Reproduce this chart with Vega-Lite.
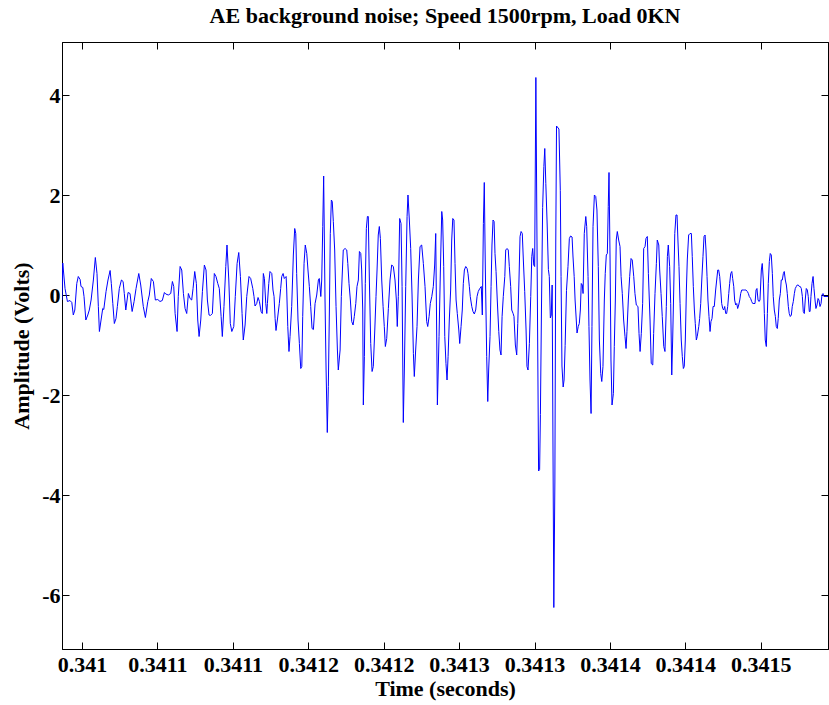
{
"$schema": "https://vega.github.io/schema/vega-lite/v6.json",
"width": 766, "height": 607,
"autosize": {"type": "none"},
"padding": {"left": 62, "top": 42, "right": 1, "bottom": 56},
"background": "white",
"title": {"text": "AE background noise; Speed 1500rpm, Load 0KN", "font": "Liberation Serif", "fontSize": 22, "fontWeight": "bold", "color": "black", "anchor": "middle", "offset": 14},
"config": {
 "view": {"stroke": "black", "strokeWidth": 1},
 "axis": {"domainColor": "black", "tickColor": "black", "labelColor": "black", "titleColor": "black", "labelFont": "Liberation Serif", "titleFont": "Liberation Serif", "labelFontSize": 22, "titleFontSize": 22, "labelFontWeight": "bold", "titleFontWeight": "bold", "grid": false, "tickSize": -7, "tickWidth": 1, "domainWidth": 1, "labelOverlap": false, "labelFlush": false}
},
"data": {"values": [
{"t":0.3409867,"v":-0.10},{"t":0.3409872,"v":0.64},{"t":0.3409887,"v":0.13},{"t":0.3409903,"v":-0.13},{"t":0.3409920,"v":-0.11},{"t":0.3409932,"v":-0.15},{"t":0.3409942,"v":-0.40},{"t":0.3409952,"v":-0.30},{"t":0.3409965,"v":0.23},{"t":0.3409975,"v":0.37},
{"t":0.3409987,"v":0.31},{"t":0.3409993,"v":0.17},{"t":0.3410005,"v":0.15},{"t":0.3410013,"v":-0.03},{"t":0.3410025,"v":-0.50},{"t":0.3410038,"v":-0.40},{"t":0.3410048,"v":-0.30},{"t":0.3410060,"v":-0.10},{"t":0.3410075,"v":0.30},{"t":0.3410088,"v":0.75},
{"t":0.3410099,"v":0.43},{"t":0.3410108,"v":-0.23},{"t":0.3410115,"v":-0.73},{"t":0.3410126,"v":-0.50},{"t":0.3410137,"v":-0.27},{"t":0.3410144,"v":-0.29},{"t":0.3410159,"v":0.07},{"t":0.3410172,"v":0.30},{"t":0.3410186,"v":0.49},{"t":0.3410194,"v":0.23},
{"t":0.3410204,"v":-0.17},{"t":0.3410214,"v":-0.57},{"t":0.3410225,"v":-0.47},{"t":0.3410234,"v":-0.23},{"t":0.3410247,"v":0.13},{"t":0.3410261,"v":0.30},{"t":0.3410272,"v":0.27},{"t":0.3410280,"v":0.03},{"t":0.3410290,"v":-0.30},{"t":0.3410305,"v":0.05},
{"t":0.3410318,"v":0.03},{"t":0.3410332,"v":-0.33},{"t":0.3410345,"v":-0.13},{"t":0.3410358,"v":0.13},{"t":0.3410376,"v":0.43},{"t":0.3410389,"v":0.20},{"t":0.3410406,"v":-0.23},{"t":0.3410420,"v":-0.45},{"t":0.3410436,"v":-0.13},{"t":0.3410446,"v":0.00},
{"t":0.3410459,"v":0.33},{"t":0.3410473,"v":0.27},{"t":0.3410486,"v":-0.10},{"t":0.3410502,"v":-0.09},{"t":0.3410517,"v":-0.13},{"t":0.3410532,"v":-0.11},{"t":0.3410546,"v":0.05},{"t":0.3410555,"v":0.02},{"t":0.3410572,"v":0.00},{"t":0.3410588,"v":0.03},
{"t":0.3410599,"v":0.27},{"t":0.3410608,"v":0.17},{"t":0.3410617,"v":-0.37},{"t":0.3410630,"v":-0.73},{"t":0.3410638,"v":-0.03},{"t":0.3410650,"v":0.57},{"t":0.3410661,"v":0.50},{"t":0.3410672,"v":0.03},{"t":0.3410683,"v":-0.27},{"t":0.3410694,"v":-0.37},
{"t":0.3410705,"v":0.03},{"t":0.3410716,"v":-0.07},{"t":0.3410727,"v":-0.10},{"t":0.3410736,"v":0.13},{"t":0.3410747,"v":0.47},{"t":0.3410758,"v":0.23},{"t":0.3410767,"v":-0.50},{"t":0.3410776,"v":-0.83},{"t":0.3410787,"v":-0.50},{"t":0.3410798,"v":0.07},
{"t":0.3410811,"v":0.60},{"t":0.3410822,"v":0.50},{"t":0.3410831,"v":-0.10},{"t":0.3410842,"v":-0.40},{"t":0.3410851,"v":-0.41},{"t":0.3410864,"v":-0.37},{"t":0.3410877,"v":0.43},{"t":0.3410888,"v":0.37},{"t":0.3410900,"v":0.23},{"t":0.3410910,"v":0.13},
{"t":0.3410922,"v":-0.43},{"t":0.3410930,"v":-0.83},{"t":0.3410941,"v":-0.23},{"t":0.3410953,"v":0.57},{"t":0.3410961,"v":1.00},{"t":0.3410973,"v":0.30},{"t":0.3410983,"v":-0.57},{"t":0.3410993,"v":-0.73},{"t":0.3411006,"v":-0.63},{"t":0.3411016,"v":-0.03},
{"t":0.3411028,"v":0.63},{"t":0.3411039,"v":0.85},{"t":0.3411050,"v":0.37},{"t":0.3411061,"v":-0.37},{"t":0.3411069,"v":-0.90},{"t":0.3411081,"v":-0.60},{"t":0.3411092,"v":-0.03},{"t":0.3411107,"v":0.37},{"t":0.3411118,"v":0.33},{"t":0.3411132,"v":0.13},
{"t":0.3411140,"v":-0.03},{"t":0.3411147,"v":-0.22},{"t":0.3411158,"v":-0.17},{"t":0.3411167,"v":-0.05},{"t":0.3411176,"v":-0.13},{"t":0.3411187,"v":-0.33},{"t":0.3411195,"v":-0.37},{"t":0.3411202,"v":0.43},{"t":0.3411209,"v":0.33},{"t":0.3411218,"v":-0.17},
{"t":0.3411225,"v":-0.37},{"t":0.3411229,"v":-0.17},{"t":0.3411238,"v":0.23},{"t":0.3411246,"v":0.47},{"t":0.3411258,"v":0.43},{"t":0.3411266,"v":0.10},{"t":0.3411273,"v":-0.03},{"t":0.3411280,"v":-0.47},{"t":0.3411286,"v":-0.71},{"t":0.3411295,"v":-0.50},
{"t":0.3411308,"v":-0.17},{"t":0.3411317,"v":0.13},{"t":0.3411324,"v":0.37},{"t":0.3411333,"v":0.43},{"t":0.3411341,"v":0.33},{"t":0.3411353,"v":0.37},{"t":0.3411357,"v":0.10},{"t":0.3411364,"v":-0.63},{"t":0.3411372,"v":-1.13},{"t":0.3411379,"v":-0.83},
{"t":0.3411390,"v":-0.23},{"t":0.3411401,"v":0.80},{"t":0.3411410,"v":1.33},{"t":0.3411417,"v":1.23},{"t":0.3411423,"v":0.43},{"t":0.3411432,"v":-0.50},{"t":0.3411441,"v":-0.97},{"t":0.3411450,"v":-1.47},{"t":0.3411457,"v":-1.43},{"t":0.3411463,"v":-0.43},
{"t":0.3411472,"v":0.63},{"t":0.3411480,"v":1.00},{"t":0.3411490,"v":0.83},{"t":0.3411498,"v":0.50},{"t":0.3411507,"v":0.17},{"t":0.3411516,"v":-0.23},{"t":0.3411525,"v":-0.67},{"t":0.3411534,"v":-0.69},{"t":0.3411545,"v":-0.17},{"t":0.3411556,"v":0.00},
{"t":0.3411567,"v":0.30},{"t":0.3411573,"v":0.33},{"t":0.3411583,"v":-0.03},{"t":0.3411589,"v":0.30},{"t":0.3411596,"v":1.37},{"t":0.3411602,"v":2.38},{"t":0.3411611,"v":-0.10},{"t":0.3411618,"v":-1.50},{"t":0.3411626,"v":-2.75},{"t":0.3411633,"v":-1.83},
{"t":0.3411640,"v":-0.30},{"t":0.3411646,"v":1.23},{"t":0.3411653,"v":1.90},{"t":0.3411659,"v":1.87},{"t":0.3411666,"v":1.47},{"t":0.3411675,"v":0.90},{"t":0.3411684,"v":-0.23},{"t":0.3411693,"v":-1.10},{"t":0.3411699,"v":-1.50},{"t":0.3411711,"v":-1.10},
{"t":0.3411719,"v":-0.03},{"t":0.3411732,"v":0.90},{"t":0.3411744,"v":0.93},{"t":0.3411755,"v":0.90},{"t":0.3411762,"v":0.63},{"t":0.3411770,"v":0.23},{"t":0.3411779,"v":-0.10},{"t":0.3411788,"v":-0.53},{"t":0.3411797,"v":-0.60},{"t":0.3411805,"v":-0.43},
{"t":0.3411815,"v":-0.17},{"t":0.3411823,"v":0.17},{"t":0.3411832,"v":0.30},{"t":0.3411839,"v":0.87},{"t":0.3411848,"v":0.83},{"t":0.3411854,"v":0.50},{"t":0.3411861,"v":-0.30},{"t":0.3411865,"v":-2.20},{"t":0.3411872,"v":-1.23},{"t":0.3411878,"v":0.23},
{"t":0.3411885,"v":1.33},{"t":0.3411892,"v":1.57},{"t":0.3411898,"v":1.57},{"t":0.3411905,"v":0.30},{"t":0.3411914,"v":-0.97},{"t":0.3411923,"v":-1.53},{"t":0.3411931,"v":-1.43},{"t":0.3411941,"v":-0.70},{"t":0.3411949,"v":-0.03},{"t":0.3411956,"v":0.50},
{"t":0.3411964,"v":1.20},{"t":0.3411971,"v":1.37},{"t":0.3411978,"v":1.13},{"t":0.3411987,"v":0.30},{"t":0.3411996,"v":-0.23},{"t":0.3412004,"v":-0.63},{"t":0.3412011,"v":-1.03},{"t":0.3412020,"v":-0.87},{"t":0.3412031,"v":-0.27},{"t":0.3412042,"v":0.30},
{"t":0.3412053,"v":0.60},{"t":0.3412064,"v":0.57},{"t":0.3412075,"v":0.30},{"t":0.3412084,"v":-0.10},{"t":0.3412090,"v":-0.63},{"t":0.3412097,"v":-0.03},{"t":0.3412106,"v":1.53},{"t":0.3412115,"v":1.43},{"t":0.3412122,"v":0.17},{"t":0.3412130,"v":-2.55},
{"t":0.3412137,"v":-1.50},{"t":0.3412146,"v":0.17},{"t":0.3412155,"v":1.57},{"t":0.3412161,"v":2.00},{"t":0.3412170,"v":1.50},{"t":0.3412179,"v":0.93},{"t":0.3412188,"v":0.00},{"t":0.3412197,"v":-1.17},{"t":0.3412203,"v":-1.63},{"t":0.3412212,"v":-1.10},
{"t":0.3412221,"v":-0.63},{"t":0.3412230,"v":0.30},{"t":0.3412241,"v":0.97},{"t":0.3412252,"v":1.00},{"t":0.3412263,"v":0.63},{"t":0.3412274,"v":0.17},{"t":0.3412285,"v":-0.53},{"t":0.3412292,"v":-0.63},{"t":0.3412301,"v":-0.43},{"t":0.3412309,"v":-0.17},
{"t":0.3412319,"v":-0.03},{"t":0.3412329,"v":0.17},{"t":0.3412338,"v":0.60},{"t":0.3412345,"v":1.23},{"t":0.3412356,"v":-2.20},{"t":0.3412367,"v":-0.83},{"t":0.3412376,"v":0.50},{"t":0.3412385,"v":1.67},{"t":0.3412391,"v":1.50},{"t":0.3412398,"v":0.57},
{"t":0.3412405,"v":-0.83},{"t":0.3412413,"v":-1.37},{"t":0.3412420,"v":-1.70},{"t":0.3412427,"v":-1.23},{"t":0.3412435,"v":-0.50},{"t":0.3412444,"v":0.10},{"t":0.3412451,"v":1.10},{"t":0.3412458,"v":1.53},{"t":0.3412466,"v":1.50},{"t":0.3412473,"v":0.63},
{"t":0.3412480,"v":-0.10},{"t":0.3412488,"v":-0.37},{"t":0.3412498,"v":-0.70},{"t":0.3412504,"v":-0.97},{"t":0.3412513,"v":-0.63},{"t":0.3412521,"v":-0.30},{"t":0.3412528,"v":0.23},{"t":0.3412535,"v":0.50},{"t":0.3412544,"v":0.57},{"t":0.3412553,"v":0.53},
{"t":0.3412559,"v":0.43},{"t":0.3412568,"v":0.17},{"t":0.3412574,"v":-0.03},{"t":0.3412584,"v":-0.23},{"t":0.3412592,"v":-0.33},{"t":0.3412601,"v":-0.38},{"t":0.3412610,"v":-0.30},{"t":0.3412619,"v":-0.03},{"t":0.3412627,"v":0.07},{"t":0.3412637,"v":0.13},
{"t":0.3412647,"v":0.17},{"t":0.3412654,"v":-0.40},{"t":0.3412661,"v":1.43},{"t":0.3412667,"v":2.25},{"t":0.3412674,"v":0.50},{"t":0.3412683,"v":-1.23},{"t":0.3412690,"v":-2.13},{"t":0.3412696,"v":-1.50},{"t":0.3412705,"v":-0.83},{"t":0.3412712,"v":0.17},
{"t":0.3412718,"v":1.00},{"t":0.3412725,"v":1.50},{"t":0.3412732,"v":1.47},{"t":0.3412738,"v":0.83},{"t":0.3412745,"v":0.47},{"t":0.3412753,"v":-0.10},{"t":0.3412763,"v":-0.73},{"t":0.3412771,"v":-1.10},{"t":0.3412778,"v":-1.20},{"t":0.3412785,"v":-0.43},
{"t":0.3412793,"v":-0.03},{"t":0.3412803,"v":0.37},{"t":0.3412809,"v":0.90},{"t":0.3412818,"v":0.93},{"t":0.3412826,"v":0.90},{"t":0.3412833,"v":0.57},{"t":0.3412842,"v":0.17},{"t":0.3412849,"v":-0.30},{"t":0.3412858,"v":-0.37},{"t":0.3412864,"v":-0.43},
{"t":0.3412873,"v":-1.00},{"t":0.3412882,"v":-1.20},{"t":0.3412889,"v":-0.57},{"t":0.3412897,"v":0.30},{"t":0.3412904,"v":1.17},{"t":0.3412911,"v":1.27},{"t":0.3412919,"v":1.23},{"t":0.3412926,"v":0.70},{"t":0.3412935,"v":0.07},{"t":0.3412944,"v":-0.70},
{"t":0.3412950,"v":-1.43},{"t":0.3412957,"v":-1.50},{"t":0.3412966,"v":-0.97},{"t":0.3412975,"v":-0.03},{"t":0.3412982,"v":0.77},{"t":0.3412988,"v":0.93},{"t":0.3412995,"v":0.60},{"t":0.3413001,"v":0.57},{"t":0.3413009,"v":4.35},{"t":0.3413027,"v":-3.52},
{"t":0.3413034,"v":-3.49},{"t":0.3413039,"v":-2.39},{"t":0.3413046,"v":-0.32},{"t":0.3413054,"v":1.75},{"t":0.3413062,"v":2.57},{"t":0.3413068,"v":2.93},{"t":0.3413075,"v":2.23},{"t":0.3413084,"v":1.40},{"t":0.3413092,"v":0.51},{"t":0.3413098,"v":0.37},
{"t":0.3413105,"v":-0.46},{"t":0.3413111,"v":-0.40},{"t":0.3413117,"v":0.20},{"t":0.3413128,"v":-6.25},{"t":0.3413135,"v":-3.76},{"t":0.3413141,"v":1.06},{"t":0.3413146,"v":3.38},{"t":0.3413162,"v":3.32},{"t":0.3413171,"v":2.09},{"t":0.3413176,"v":0.37},
{"t":0.3413182,"v":-1.42},{"t":0.3413190,"v":-1.84},{"t":0.3413196,"v":-1.70},{"t":0.3413203,"v":-1.01},{"t":0.3413212,"v":0.09},{"t":0.3413222,"v":0.57},{"t":0.3413231,"v":1.13},{"t":0.3413239,"v":1.18},{"t":0.3413249,"v":1.16},{"t":0.3413255,"v":0.78},
{"t":0.3413263,"v":0.37},{"t":0.3413269,"v":-0.10},{"t":0.3413282,"v":-0.76},{"t":0.3413290,"v":-0.63},{"t":0.3413297,"v":-0.57},{"t":0.3413304,"v":-0.30},{"t":0.3413310,"v":0.23},{"t":0.3413317,"v":0.20},{"t":0.3413322,"v":0.03},{"t":0.3413330,"v":1.23},
{"t":0.3413340,"v":1.57},{"t":0.3413346,"v":1.37},{"t":0.3413355,"v":0.37},{"t":0.3413361,"v":-0.63},{"t":0.3413368,"v":-1.70},{"t":0.3413375,"v":-2.37},{"t":0.3413381,"v":-0.63},{"t":0.3413388,"v":1.37},{"t":0.3413397,"v":2.00},{"t":0.3413406,"v":1.97},
{"t":0.3413414,"v":1.70},{"t":0.3413423,"v":0.57},{"t":0.3413430,"v":-0.90},{"t":0.3413439,"v":-1.57},{"t":0.3413446,"v":-1.73},{"t":0.3413454,"v":-1.43},{"t":0.3413463,"v":-0.10},{"t":0.3413469,"v":0.43},{"t":0.3413476,"v":0.80},{"t":0.3413483,"v":0.83},
{"t":0.3413489,"v":1.77},{"t":0.3413494,"v":2.45},{"t":0.3413501,"v":0.70},{"t":0.3413507,"v":-1.30},{"t":0.3413514,"v":-2.20},{"t":0.3413523,"v":-1.97},{"t":0.3413529,"v":-1.03},{"t":0.3413536,"v":-0.10},{"t":0.3413542,"v":1.10},{"t":0.3413549,"v":1.27},
{"t":0.3413558,"v":1.10},{"t":0.3413567,"v":0.97},{"t":0.3413574,"v":0.37},{"t":0.3413582,"v":0.03},{"t":0.3413591,"v":-0.50},{"t":0.3413600,"v":-0.83},{"t":0.3413607,"v":-1.07},{"t":0.3413613,"v":-0.73},{"t":0.3413622,"v":-0.10},{"t":0.3413631,"v":0.37},
{"t":0.3413640,"v":0.73},{"t":0.3413648,"v":0.70},{"t":0.3413658,"v":0.37},{"t":0.3413666,"v":0.03},{"t":0.3413675,"v":-0.20},{"t":0.3413686,"v":-0.23},{"t":0.3413693,"v":-0.77},{"t":0.3413700,"v":-1.13},{"t":0.3413708,"v":-0.77},{"t":0.3413717,"v":-0.17},
{"t":0.3413724,"v":0.93},{"t":0.3413733,"v":0.97},{"t":0.3413739,"v":1.13},{"t":0.3413748,"v":1.17},{"t":0.3413755,"v":0.43},{"t":0.3413766,"v":-0.50},{"t":0.3413774,"v":-1.37},{"t":0.3413784,"v":-1.40},{"t":0.3413790,"v":-0.77},{"t":0.3413799,"v":0.03},
{"t":0.3413808,"v":0.63},{"t":0.3413814,"v":1.10},{"t":0.3413824,"v":1.00},{"t":0.3413830,"v":0.50},{"t":0.3413839,"v":0.03},{"t":0.3413847,"v":-0.43},{"t":0.3413857,"v":-1.03},{"t":0.3413865,"v":-1.13},{"t":0.3413874,"v":-0.23},{"t":0.3413881,"v":0.77},
{"t":0.3413887,"v":1.00},{"t":0.3413896,"v":0.57},{"t":0.3413903,"v":-0.17},{"t":0.3413910,"v":-1.60},{"t":0.3413916,"v":-0.90},{"t":0.3413923,"v":0.10},{"t":0.3413930,"v":1.23},{"t":0.3413938,"v":1.60},{"t":0.3413945,"v":1.60},{"t":0.3413951,"v":1.10},
{"t":0.3413958,"v":0.57},{"t":0.3413965,"v":-0.17},{"t":0.3413973,"v":-0.90},{"t":0.3413980,"v":-1.23},{"t":0.3413987,"v":-1.47},{"t":0.3413993,"v":-1.43},{"t":0.3414000,"v":-0.90},{"t":0.3414007,"v":0.10},{"t":0.3414013,"v":0.70},{"t":0.3414022,"v":1.20},
{"t":0.3414031,"v":1.23},{"t":0.3414040,"v":1.23},{"t":0.3414046,"v":0.77},{"t":0.3414053,"v":0.17},{"t":0.3414060,"v":-0.30},{"t":0.3414066,"v":-0.57},{"t":0.3414073,"v":-0.90},{"t":0.3414079,"v":-0.83},{"t":0.3414089,"v":-0.63},{"t":0.3414095,"v":-0.47},
{"t":0.3414102,"v":-0.17},{"t":0.3414109,"v":0.30},{"t":0.3414117,"v":0.77},{"t":0.3414124,"v":1.17},{"t":0.3414131,"v":1.20},{"t":0.3414137,"v":0.90},{"t":0.3414144,"v":0.37},{"t":0.3414150,"v":-0.10},{"t":0.3414157,"v":-0.43},{"t":0.3414164,"v":-0.73},
{"t":0.3414170,"v":-0.53},{"t":0.3414177,"v":-0.47},{"t":0.3414184,"v":-0.23},{"t":0.3414192,"v":-0.23},{"t":0.3414201,"v":0.10},{"t":0.3414208,"v":0.30},{"t":0.3414215,"v":0.50},{"t":0.3414221,"v":0.50},{"t":0.3414228,"v":0.37},{"t":0.3414235,"v":0.10},
{"t":0.3414241,"v":-0.17},{"t":0.3414248,"v":-0.27},{"t":0.3414254,"v":-0.30},{"t":0.3414261,"v":-0.23},{"t":0.3414268,"v":-0.37},{"t":0.3414274,"v":-0.37},{"t":0.3414281,"v":-0.23},{"t":0.3414288,"v":0.03},{"t":0.3414294,"v":0.23},{"t":0.3414301,"v":0.43},
{"t":0.3414308,"v":0.47},{"t":0.3414314,"v":0.33},{"t":0.3414321,"v":0.17},{"t":0.3414327,"v":-0.10},{"t":0.3414334,"v":-0.20},{"t":0.3414341,"v":-0.17},{"t":0.3414347,"v":-0.27},{"t":0.3414354,"v":-0.20},{"t":0.3414361,"v":-0.10},{"t":0.3414367,"v":0.03},
{"t":0.3414374,"v":0.10},{"t":0.3414384,"v":0.10},{"t":0.3414394,"v":0.10},{"t":0.3414402,"v":0.10},{"t":0.3414411,"v":0.07},{"t":0.3414418,"v":0.03},{"t":0.3414424,"v":-0.03},{"t":0.3414433,"v":-0.07},{"t":0.3414440,"v":-0.13},{"t":0.3414447,"v":-0.17},
{"t":0.3414455,"v":-0.17},{"t":0.3414462,"v":-0.17},{"t":0.3414469,"v":0.10},{"t":0.3414475,"v":0.13},{"t":0.3414482,"v":-0.10},{"t":0.3414489,"v":-0.13},{"t":0.3414495,"v":-0.10},{"t":0.3414504,"v":0.50},{"t":0.3414510,"v":0.63},{"t":0.3414517,"v":0.30},
{"t":0.3414524,"v":-0.37},{"t":0.3414530,"v":-0.90},{"t":0.3414537,"v":-1.03},{"t":0.3414544,"v":-0.37},{"t":0.3414550,"v":0.23},{"t":0.3414557,"v":0.67},{"t":0.3414563,"v":0.83},{"t":0.3414570,"v":0.80},{"t":0.3414577,"v":0.43},{"t":0.3414583,"v":-0.03},
{"t":0.3414590,"v":-0.30},{"t":0.3414597,"v":-0.43},{"t":0.3414603,"v":-0.63},{"t":0.3414610,"v":-0.67},{"t":0.3414616,"v":-0.47},{"t":0.3414623,"v":-0.10},{"t":0.3414630,"v":0.03},{"t":0.3414636,"v":0.30},{"t":0.3414643,"v":0.30},{"t":0.3414650,"v":0.43},
{"t":0.3414656,"v":0.47},{"t":0.3414663,"v":0.30},{"t":0.3414670,"v":0.20},{"t":0.3414676,"v":0.03},{"t":0.3414683,"v":-0.23},{"t":0.3414689,"v":-0.37},{"t":0.3414696,"v":-0.43},{"t":0.3414703,"v":-0.40},{"t":0.3414709,"v":-0.23},{"t":0.3414716,"v":-0.13},
{"t":0.3414723,"v":0.03},{"t":0.3414729,"v":0.13},{"t":0.3414736,"v":0.17},{"t":0.3414742,"v":0.20},{"t":0.3414749,"v":0.20},{"t":0.3414756,"v":0.17},{"t":0.3414762,"v":0.17},{"t":0.3414769,"v":0.13},{"t":0.3414776,"v":-0.03},{"t":0.3414782,"v":-0.33},
{"t":0.3414789,"v":-0.37},{"t":0.3414795,"v":-0.10},{"t":0.3414802,"v":0.13},{"t":0.3414809,"v":0.10},{"t":0.3414815,"v":-0.03},{"t":0.3414822,"v":-0.33},{"t":0.3414827,"v":-0.33},{"t":0.3414833,"v":-0.03},{"t":0.3414840,"v":0.23},{"t":0.3414847,"v":0.37},
{"t":0.3414853,"v":0.13},{"t":0.3414860,"v":-0.10},{"t":0.3414866,"v":-0.27},{"t":0.3414873,"v":-0.20},{"t":0.3414880,"v":-0.07},{"t":0.3414886,"v":-0.10},{"t":0.3414893,"v":-0.23},{"t":0.3414900,"v":-0.17},{"t":0.3414906,"v":0.00},{"t":0.3414913,"v":0.03},
{"t":0.3414919,"v":-0.03},{"t":0.3414933,"v":-0.03},{"t":0.3414946,"v":-0.03}
]},
"layer": [
 {
  "mark": {"type": "line", "color": "#0000FF", "strokeWidth": 1, "clip": true},
  "encoding": {
   "x": {"field": "t", "type": "quantitative", "scale": {"domain": [0.3409867, 0.3414946], "nice": false, "zero": false},
         "axis": {"orient": "bottom", "values": [0.341, 0.34105, 0.3411, 0.34115, 0.3412, 0.34125, 0.3413, 0.34135, 0.3414, 0.34145], "labelExpr": "format(datum.value + 1e-9, '.4~f')", "title": "Time (seconds)", "labelPadding": 12, "titlePadding": 3}},
   "y": {"field": "v", "type": "quantitative", "scale": {"domain": [-7.08, 5.06], "nice": false, "zero": false},
         "axis": {"orient": "left", "values": [-6, -4, -2, 0, 2, 4], "labelExpr": "toString(datum.value)", "title": "Amplitude (Volts)", "labelPadding": 9, "titlePadding": 8}}
  }
 },
 {
  "mark": {"type": "line", "strokeOpacity": 0, "clip": true},
  "encoding": {
   "x": {"field": "t", "type": "quantitative", "axis": {"orient": "top", "values": [0.341, 0.34105, 0.3411, 0.34115, 0.3412, 0.34125, 0.3413, 0.34135, 0.3414, 0.34145], "labels": false, "title": null}},
   "y": {"field": "v", "type": "quantitative", "axis": {"orient": "right", "values": [-6, -4, -2, 0, 2, 4], "labels": false, "title": null}}
  }
 }
],
"resolve": {"axis": {"x": "independent", "y": "independent"}}
}
